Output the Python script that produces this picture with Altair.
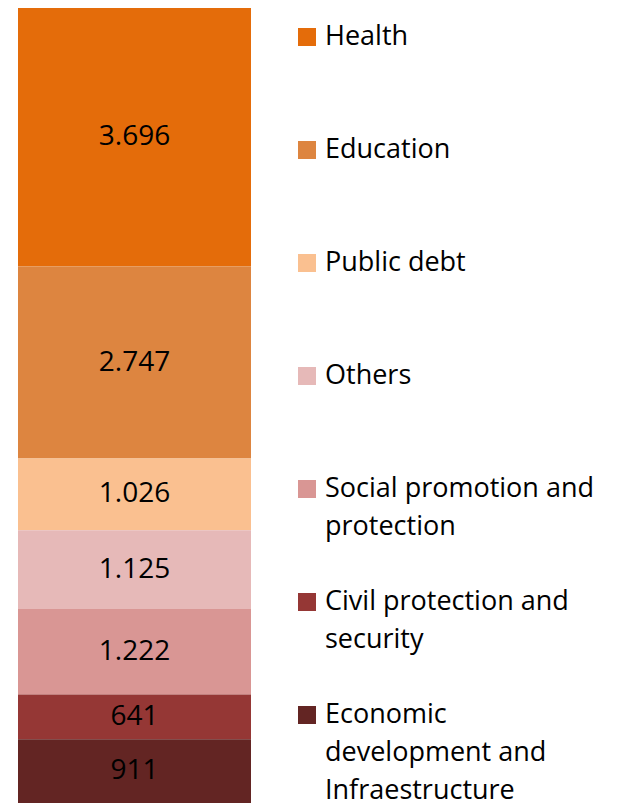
import altair as alt
import pandas as pd

categories = ["Health", "Education", "Public debt", "Others",
              "Social promotion and protection", "Civil protection and security",
              "Economic development and Infraestructure"]
values = [3696, 2747, 1026, 1125, 1222, 641, 911]
value_labels = ["3.696", "2.747", "1.026", "1.125", "1.222", "641", "911"]
legend_text = ["Health", "Education", "Public debt", "Others",
               "Social promotion and\nprotection", "Civil protection and\nsecurity",
               "Economic\ndevelopment and\nInfraestructure"]
colors = ["#E46C0A", "#DD8540", "#FAC090", "#E6B9B8", "#D99694", "#953735", "#632523"]

df = pd.DataFrame({
    "idx": list(range(len(categories))),
    "category": categories,
    "value": values,
    "label": value_labels,
    "legend": legend_text,
})
total = sum(values)
FONT = "Open Sans"

color_scale = alt.Scale(domain=categories, range=colors)

base = alt.Chart(df).transform_stack(
    stack="value", groupby=[], as_=["y0", "y1"],
    sort=[alt.SortField("idx", order="descending")]
).transform_calculate(mid="(datum.y0 + datum.y1) / 2")

yscale = alt.Scale(domain=[0, total], nice=False, zero=True)

bars = base.mark_bar(strokeWidth=0).encode(
    x=alt.value(0),
    x2=alt.value("width"),
    y=alt.Y("y0:Q", scale=yscale, axis=None),
    y2="y1:Q",
    color=alt.Color("category:N", scale=color_scale, legend=None),
)
texts = base.mark_text(font=FONT, fontSize=28, color="black", baseline="middle").encode(
    y=alt.Y("mid:Q", scale=yscale, axis=None),
    text="label:N",
)
bar_chart = alt.layer(bars, texts).properties(width=233, height=795)

lscale = alt.Scale(domain=[0, 6], range=[29, 707])
squares = alt.Chart(df).mark_square(size=324, opacity=1).encode(
    x=alt.value(56),
    y=alt.Y("idx:Q", scale=lscale, axis=None),
    color=alt.Color("category:N", scale=color_scale, legend=None),
)
ltext = alt.Chart(df).transform_calculate(
    lines="split(datum.legend, '\\n')"
).mark_text(font=FONT, fontSize=27, color="black", align="left",
            baseline="top", dy=-13, lineHeight=38).encode(
    x=alt.value(74),
    y=alt.Y("idx:Q", scale=lscale, axis=None),
    text="lines:N",
)
legend_chart = alt.layer(squares, ltext).properties(width=360, height=795)

chart = alt.hconcat(bar_chart, legend_chart, spacing=0).properties(
    padding={"left": 10, "top": 0, "right": 0, "bottom": 0},
    background="white",
).configure_view(stroke=None)

chart.save("out.html", embed_options={"renderer": "svg", "actions": False})
